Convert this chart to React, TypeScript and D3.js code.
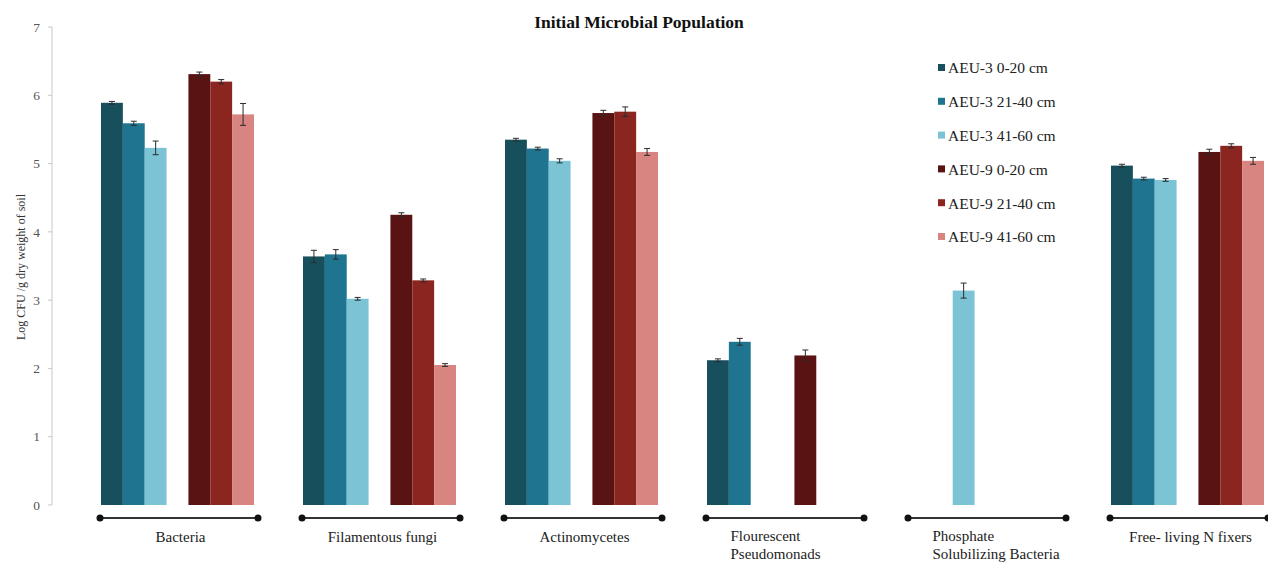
import React from "react";
import * as d3 from "d3";

// ---- data ----
const categories = [
  "Bacteria",
  "Filamentous fungi",
  "Actinomycetes",
  "Flourescent Pseudomonads",
  "Phosphate Solubilizing Bacteria",
  "Free- living N fixers",
];
const categoryLabelLines = [
  ["Bacteria"],
  ["Filamentous fungi"],
  ["Actinomycetes"],
  ["Flourescent", "Pseudomonads"],
  ["Phosphate", "Solubilizing Bacteria"],
  ["Free- living N fixers"],
];
const seriesNames = [
  "AEU-3 0-20 cm",
  "AEU-3 21-40 cm",
  "AEU-3 41-60 cm",
  "AEU-9 0-20 cm",
  "AEU-9 21-40 cm",
  "AEU-9 41-60 cm",
];
const aeu3_0_20 = [5.89, 3.64, 5.35, 2.12, null, 4.97];
const aeu3_21_40 = [5.59, 3.67, 5.22, 2.39, null, 4.78];
const aeu3_41_60 = [5.23, 3.02, 5.04, null, 3.14, 4.76];
const aeu9_0_20 = [6.31, 4.25, 5.74, 2.19, null, 5.17];
const aeu9_21_40 = [6.2, 3.29, 5.76, null, null, 5.26];
const aeu9_41_60 = [5.72, 2.05, 5.17, null, null, 5.04];

const err3_0_20 = [0.02, 0.09, 0.02, 0.02, 0, 0.02];
const err3_21_40 = [0.03, 0.07, 0.02, 0.05, 0, 0.02];
const err3_41_60 = [0.1, 0.02, 0.03, 0, 0.11, 0.02];
const err9_0_20 = [0.03, 0.03, 0.04, 0.08, 0, 0.04];
const err9_21_40 = [0.03, 0.02, 0.07, 0, 0, 0.03];
const err9_41_60 = [0.16, 0.02, 0.05, 0, 0, 0.05];

const yTicks = [0, 1, 2, 3, 4, 5, 6, 7];
const title = "Initial Microbial Population";
const yTitle = "Log CFU /g  dry weight of soil";

const seriesValues = [aeu3_0_20, aeu3_21_40, aeu3_41_60, aeu9_0_20, aeu9_21_40, aeu9_41_60];
const seriesErrors = [err3_0_20, err3_21_40, err3_41_60, err9_0_20, err9_21_40, err9_41_60];
const colors = ["#174f5d", "#1f7490", "#7cc3d5", "#5a1313", "#8a2520", "#d88481"];
// slot order inside each group (one empty spacer slot between the two sites)
const slots = ["s0", "s1", "s2", "gap", "s3", "s4", "s5"];
const seriesSlot = ["s0", "s1", "s2", "s3", "s4", "s5"];

const W = 1268;
const H = 571;
const FONT = "'Liberation Serif', 'Times New Roman', serif";

export default function App() {
  const axisX = 52;
  const y = d3.scaleLinear().domain([0, 7]).range([505, 27]);
  const x0 = d3
    .scaleBand<string>()
    .domain(categories)
    .range([76.5, 76.5 + 202 * 6])
    .paddingInner(0.2426)
    .paddingOuter(0.1213);
  const x1 = d3.scaleBand<string>().domain(slots).range([0, x0.bandwidth()]).padding(0);

  const lineY = 518;

  return (
    <svg
      width={W}
      height={H}
      style={{ position: "absolute", left: 0, top: 0, background: "#fff" }}
      fontFamily={FONT}
    >
      <rect x={0} y={0} width={W} height={H} fill="#fff" />
      {/* title */}
      <text x={639} y={28} textAnchor="middle" fontSize={17.5} fontWeight="bold" fill="#111">
        {title}
      </text>

      {/* y axis */}
      <line x1={axisX} x2={axisX} y1={y(7)} y2={y(0)} stroke="#c8c8c8" strokeWidth={1} />
      {yTicks.map((t) => (
        <g key={t}>
          <line x1={axisX - 4} x2={axisX} y1={y(t)} y2={y(t)} stroke="#c8c8c8" />
          <text
            x={axisX - 12}
            y={y(t)}
            dy="0.35em"
            textAnchor="end"
            fontSize={13.5}
            fill="#555"
          >
            {t}
          </text>
        </g>
      ))}
      <text
        transform={`translate(21,267) rotate(-90)`}
        textAnchor="middle"
        dy="0.35em"
        fontSize={12}
        fill="#333"
      >
        {yTitle}
      </text>

      {/* bars */}
      {categories.map((c, ci) => (
        <g key={c} transform={`translate(${x0(c)},0)`}>
          {seriesValues.map((vals, si) => {
            const v = vals[ci];
            if (v == null) return null;
            const bx = x1(seriesSlot[si])!;
            const bw = x1.bandwidth();
            const e = seriesErrors[si][ci];
            const cx = bx + bw / 2;
            return (
              <g key={si}>
                <rect x={bx} y={y(v)} width={bw} height={y(0) - y(v)} fill={colors[si]} />
                {e > 0 && (
                  <g stroke="#2b2b2b" strokeWidth={1}>
                    <line x1={cx} x2={cx} y1={y(v + e)} y2={y(v - e)} />
                    <line x1={cx - 3} x2={cx + 3} y1={y(v + e)} y2={y(v + e)} />
                    <line x1={cx - 3} x2={cx + 3} y1={y(v - e)} y2={y(v - e)} />
                  </g>
                )}
              </g>
            );
          })}
        </g>
      ))}

      {/* group brackets and labels */}
      {categories.map((c, ci) => {
        const start = x0(c)!;
        const center = start + x0.bandwidth() / 2;
        const lines = categoryLabelLines[ci];
        const xa = start - 1;
        const xb = start + 157;
        return (
          <g key={c}>
            <line x1={xa} x2={xb} y1={lineY} y2={lineY} stroke="#333" strokeWidth={2} />
            <circle cx={xa} cy={lineY} r={3.5} fill="#111" />
            <circle cx={xb} cy={lineY} r={3.5} fill="#111" />
            {lines.length === 1 ? (
              <text x={center + 3} y={542} textAnchor="middle" fontSize={15} fill="#222">
                {lines[0]}
              </text>
            ) : (
              <text x={center - 53} y={541} textAnchor="start" fontSize={15} fill="#222">
                {lines.map((l, li) => (
                  <tspan key={li} x={center - 53} dy={li === 0 ? 0 : 18}>
                    {l}
                  </tspan>
                ))}
              </text>
            )}
          </g>
        );
      })}

      {/* legend */}
      {seriesNames.map((n, i) => {
        const ly = 68 + i * 33.8;
        return (
          <g key={n}>
            <rect x={938} y={ly - 4} width={7} height={7} fill={colors[i]} />
            <text x={948} y={ly} dy="0.35em" fontSize={15.5} fill="#222">
              {n}
            </text>
          </g>
        );
      })}
    </svg>
  );
}
